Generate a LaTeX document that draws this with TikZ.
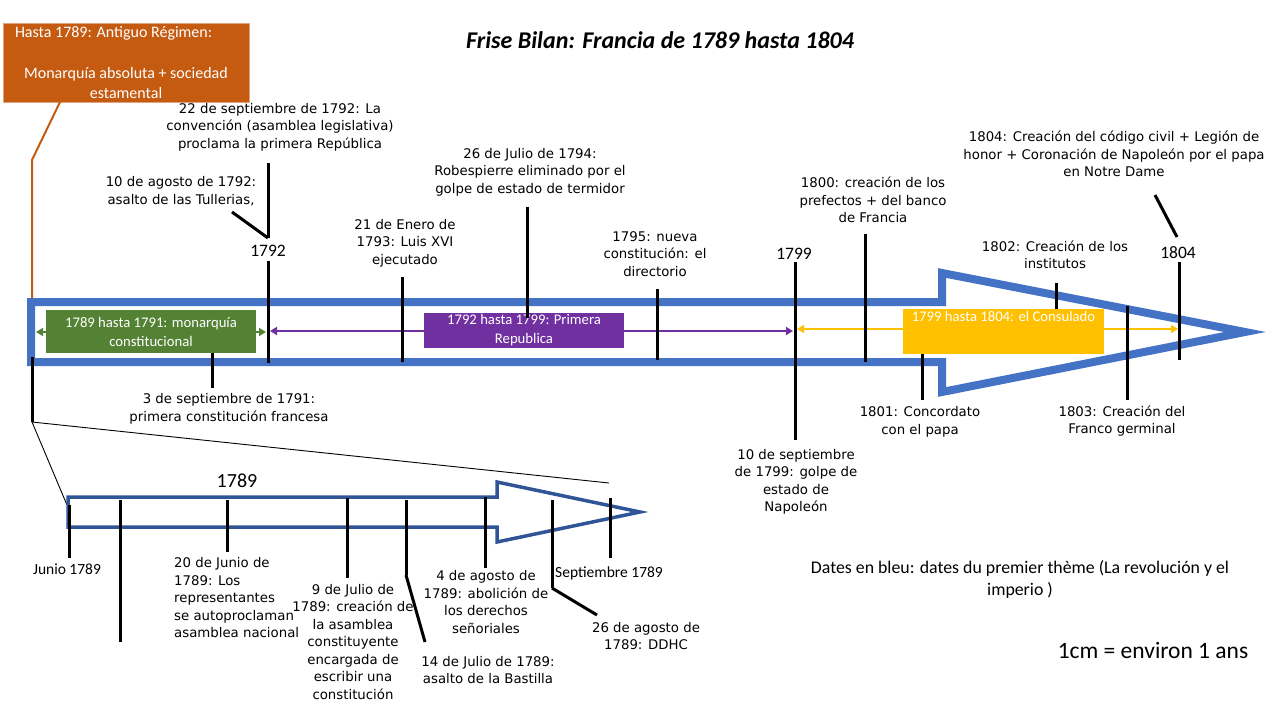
\documentclass[tikz,border=0pt]{standalone}
\usepackage{fontspec}
\setmainfont{Carlito}
\newfontfamily\handfont{DejaVu Sans}
\usetikzlibrary{arrows.meta}
\definecolor{frise}{RGB}{68,114,196}
\definecolor{frisedark}{RGB}{47,85,151}
\definecolor{ancien}{RGB}{197,90,17}
\definecolor{monarq}{RGB}{84,130,53}
\definecolor{repub}{RGB}{112,48,160}
\definecolor{consul}{RGB}{255,192,0}

\begin{document}
\begin{tikzpicture}[
  x=1pt, y=-1pt,
  every node/.style={inner sep=0pt},
  event/.style={font=\handfont\fontsize{13.3}{17.5}\selectfont, align=center},
  year/.style={font=\fontsize{17.5}{20}\selectfont},
  small/.style={font=\fontsize{15.5}{18}\selectfont},
  period/.style={text=white, font=\fontsize{14.7}{19}\selectfont, align=center},
  tick/.style={line width=3pt},
  thin/.style={line width=0.9pt},
  >={Triangle[length=7pt,width=8pt]}
]
\useasboundingbox (0,0) rectangle (1279,715);

\node[font=\bfseries\itshape\fontsize{24}{28}\selectfont] (title) at (660,40)
  {Frise Bilan: Francia de 1789 hasta 1804};

% Antiguo Regimen
\node[fill=ancien, draw=ancien!55, text=white, minimum width=246, minimum height=79,
      align=center, font=\fontsize{16}{20.5}\selectfont] (antiguo) at (126,62.5)
  {\makebox[222pt][l]{Hasta 1789: Antiguo Régimen:}\\[20.5pt]Monarquía absoluta + sociedad\\estamental};
\coordinate (antiguofoot) at (60,102);
\coordinate (antiguobend) at (32,160);
\coordinate (barleft) at (32,302);
\draw[ancien, line width=2pt] (antiguofoot) -- (antiguobend) -- (barleft);

% Main frise
\draw[frise, line width=8pt, fill=white]
  (31,302) -- (942,302) -- (942,273) -- (1245,332) -- (942,392) -- (942,362) -- (31,362) -- cycle;

% Periods
\coordinate (pA) at (36,332);   \coordinate (pB) at (266,332);
\coordinate (pC) at (270,331);  \coordinate (pD) at (793,331);
\coordinate (pE) at (797,329);  \coordinate (pF) at (1178,329);
\draw[<->, monarq, line width=2pt] (pA) -- (pB);
\draw[<->, repub, line width=2pt] (pC) -- (pD);
\draw[<->, consul, line width=2pt] (pE) -- (pF);

\node[period, fill=monarq, minimum width=210, minimum height=43] (monarquia) at (151,331.5)
  {1789 hasta 1791: monarquía\\constitucional};
\node[period, fill=repub, minimum width=200, minimum height=35] (republica) at (524,330.5)
  {1792 hasta 1799: Primera\\Republica};
\node[fill=consul, minimum width=201, minimum height=45,
      label={[period, anchor=north, yshift=-2pt]north:1799 hasta 1804: el Consulado}]
  (consulado) at (1003.5,331.5) {};

% Ticks on the main frise
\foreach \n/\x/\ya/\yb in {1792/268/261/363, 1791/212/353/388, 1793/402/277/362,
    1794/527/207/318, 1795/657/289/360, 1799/795/262/440, 1800/865/234/362,
    1801/922/354/400, 1802/1056/283/309, 1803/1127/306/400, 1804/1179/262/360,
    conv/268/163/238, start/32/357/422} {
  \coordinate (top\n) at (\x,\ya);
  \coordinate (bot\n) at (\x,\yb);
  \draw[tick] (top\n) -- (bot\n);
}
\coordinate (tulle) at (232,212);
\draw[tick] (tulle) -- (botconv);
\coordinate (sacreA) at (1155,195);
\coordinate (sacreB) at (1177,237);
\draw[tick] (sacreA) -- (sacreB);

% Zoom on 1789
\coordinate (zoomL) at (67,505);
\coordinate (zoomR) at (609,483);
\draw[thin] (botstart) -- (zoomL);
\draw[thin] (botstart) -- (zoomR);

\draw[frisedark, line width=3.5pt]
  (68,497) -- (497,497) -- (497,482) -- (640,512) -- (497,542) -- (497,527) -- (68,527) -- cycle;

\foreach \n/\x/\ya/\yb in {jun/69/505/558, blank/120/500/642, j20/227/500/552, j9/347/498/578,
    j14/406/500/575, a4/485/497/568, a26/552/500/588, sep/610/498/558} {
  \coordinate (ztop\n) at (\x,\ya);
  \coordinate (zbot\n) at (\x,\yb);
  \draw[tick] (ztop\n) -- (zbot\n);
}
\coordinate (bastilla) at (425,642);
\draw[tick] (zbotj14) -- (bastilla);
\coordinate (ddhc) at (597,615);
\draw[tick] (zbota26) -- (ddhc);

% Years
\node[year] (y1792) at (268,251) {1792};
\node[year] (y1799) at (794,254) {1799};
\node[year] (y1804) at (1178,253) {1804};
\node[font=\fontsize{20}{22}\selectfont] (y1789) at (237,481) {1789};

% Events above and below the frise
\node[event] (e1792) at (280,127) {22 de septiembre de 1792: La\\convención (asamblea legislativa)\\proclama la primera República};
\node[event] (e1792b) at (181,191) {10 de agosto de 1792:\\asalto de las Tullerias,};
\node[event] (e1791) at (229,409) {3 de septiembre de 1791:\\primera constitución francesa};
\node[event] (e1793) at (405,243) {21 de Enero de\\1793: Luis XVI\\ejecutado};
\node[event] (e1794) at (530,172) {26 de Julio de 1794:\\Robespierre eliminado por el\\golpe de estado de termidor};
\node[event] (e1795) at (655,254) {1795: nueva\\constitución: el\\directorio};
\node[event] (e1799) at (796,482) {10 de septiembre\\de 1799: golpe de\\estado de\\Napoleón};
\node[event] (e1800) at (873,200) {1800: creación de los\\prefectos + del banco\\de Francia};
\node[event] (e1801) at (920,422) {1801: Concordato\\con el papa};
\node[event] (e1802) at (1055,255) {1802: Creación de los\\institutos};
\node[event] (e1803) at (1122,421) {1803: Creación del\\Franco germinal};
\node[event] (e1804) at (1114,154) {1804: Creación del código civil + Legión de\\honor + Coronación de Napoleón por el papa\\en Notre Dame};

% Events of 1789
\node[small] (jun) at (67,569) {Junio 1789};
\node[event, align=left, anchor=west] (j20) at (174,598) {20 de Junio de\\1789: Los\\representantes\\se autoproclaman\\asamblea nacional};
\node[event] (j9) at (353,642) {9 de Julio de\\1789: creación de\\la asamblea\\constituyente\\encargada de\\escribir una\\constitución};
\node[event] (j14) at (488,670) {14 de Julio de 1789:\\asalto de la Bastilla};
\node[event] (a4) at (486,602) {4 de agosto de\\1789: abolición de\\los derechos\\señoriales};
\node[event] (a26) at (646,636) {26 de agosto de\\1789: DDHC};
\node[small] (sep) at (609,573) {Septiembre 1789};

% Notes
\node[align=center, font=\fontsize{17.8}{22}\selectfont] (note) at (1020,579)
  {Dates en bleu: dates du premier thème (La revolución y el\\imperio )};
\node[font=\fontsize{23.5}{26}\selectfont] (scale) at (1153,650) {1cm = environ 1 ans};

\end{tikzpicture}
\end{document}
